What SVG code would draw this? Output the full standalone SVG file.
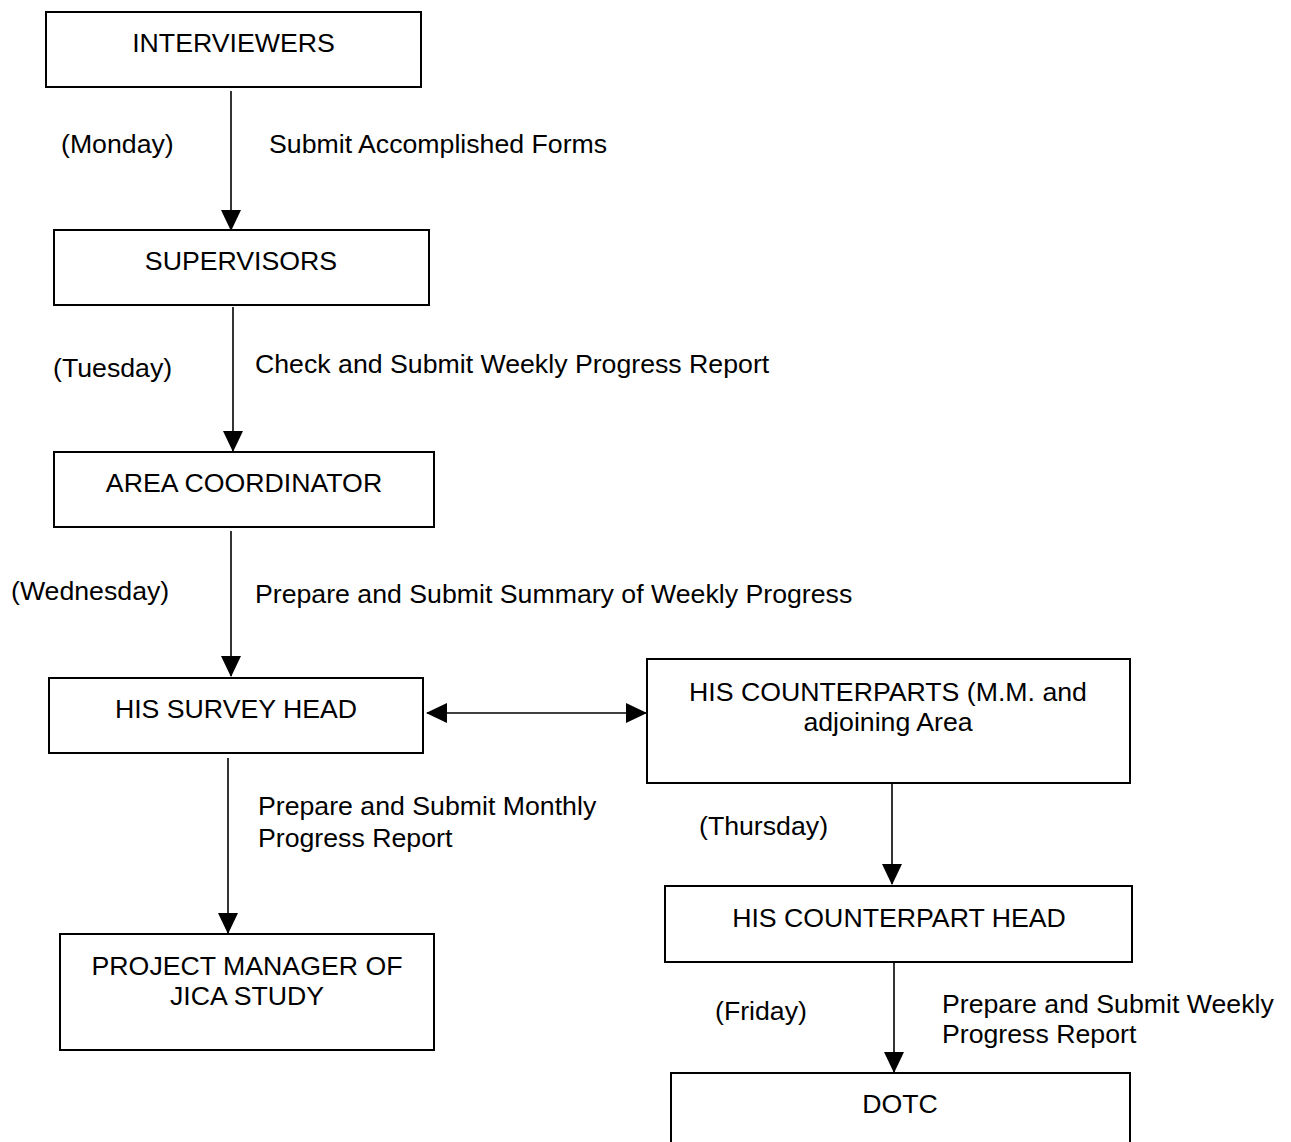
<svg xmlns="http://www.w3.org/2000/svg" width="1291" height="1142" viewBox="0 0 1291 1142">
<style>
.box{fill:#fff;stroke:#000;stroke-width:2}
.t{font-family:"Liberation Sans",Arial,sans-serif;font-size:26.7px;fill:#000}
.c{text-anchor:middle}
.ln{stroke:#000;stroke-width:1.6;fill:none}
</style>
<defs>
<marker id="ah" markerUnits="userSpaceOnUse" markerWidth="22" markerHeight="22" refX="20" refY="11" orient="auto">
<path d="M0,1 L21,11 L0,21 z" fill="#000"/>
</marker>
<marker id="ahs" markerUnits="userSpaceOnUse" markerWidth="22" markerHeight="22" refX="1" refY="11" orient="auto">
<path d="M21,1 L0,11 L21,21 z" fill="#000"/>
</marker>
</defs>
<rect width="1291" height="1142" fill="#fff"/>
<g id="connectors">
<line class="ln" x1="231" y1="91" x2="231" y2="230" marker-end="url(#ah)"/>
<line class="ln" x1="233" y1="307" x2="233" y2="451" marker-end="url(#ah)"/>
<line class="ln" x1="231" y1="531" x2="231" y2="676" marker-end="url(#ah)"/>
<line class="ln" x1="427" y1="713" x2="646" y2="713" marker-start="url(#ahs)" marker-end="url(#ah)"/>
<line class="ln" x1="228" y1="758" x2="228" y2="933" marker-end="url(#ah)"/>
<line class="ln" x1="892" y1="783" x2="892" y2="884" marker-end="url(#ah)"/>
<line class="ln" x1="894" y1="962" x2="894" y2="1072" marker-end="url(#ah)"/>
</g>
<g id="labels">
<text class="t" x="61" y="153">(Monday)</text>
<text class="t" x="269" y="153">Submit Accomplished Forms</text>
<text class="t" x="53" y="377">(Tuesday)</text>
<text class="t" x="255" y="373">Check and Submit Weekly Progress Report</text>
<text class="t" x="11" y="600">(Wednesday)</text>
<text class="t" x="255" y="603">Prepare and Submit Summary of Weekly Progress</text>
<text class="t" x="258" y="815">Prepare and Submit Monthly</text>
<text class="t" x="258" y="847">Progress Report</text>
<text class="t" x="699" y="835">(Thursday)</text>
<text class="t" x="715" y="1020">(Friday)</text>
<text class="t" x="942" y="1013">Prepare and Submit Weekly</text>
<text class="t" x="942" y="1043">Progress Report</text>
</g>
<g id="interviewers">
<rect class="box" x="46" y="12" width="375" height="75"/>
<text class="t c" x="233.5" y="52">INTERVIEWERS</text>
</g>
<g id="supervisors">
<rect class="box" x="54" y="230" width="375" height="75"/>
<text class="t c" x="241" y="270">SUPERVISORS</text>
</g>
<g id="area-coordinator">
<rect class="box" x="54" y="452" width="380" height="75"/>
<text class="t c" x="244" y="492">AREA COORDINATOR</text>
</g>
<g id="his-survey-head">
<rect class="box" x="49" y="678" width="374" height="75"/>
<text class="t c" x="236" y="718">HIS SURVEY HEAD</text>
</g>
<g id="his-counterparts">
<rect class="box" x="647" y="659" width="483" height="124"/>
<text class="t c" x="888" y="701">HIS COUNTERPARTS (M.M. and</text>
<text class="t c" x="888" y="731">adjoining Area</text>
</g>
<g id="project-manager">
<rect class="box" x="60" y="934" width="374" height="116"/>
<text class="t c" x="247" y="975">PROJECT MANAGER OF</text>
<text class="t c" x="247" y="1005">JICA STUDY</text>
</g>
<g id="his-counterpart-head">
<rect class="box" x="665" y="886" width="467" height="76"/>
<text class="t c" x="899" y="927">HIS COUNTERPART HEAD</text>
</g>
<g id="dotc">
<rect class="box" x="671" y="1073" width="459" height="100"/>
<text class="t c" x="900" y="1113">DOTC</text>
</g>
</svg>
